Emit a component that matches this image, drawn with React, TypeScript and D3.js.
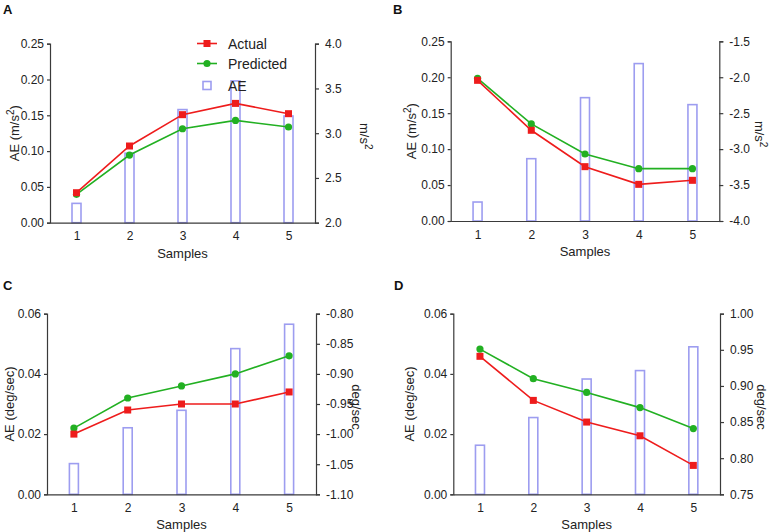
import * as d3 from 'd3';
import { useEffect, useRef } from 'react';

const samples = [1, 2, 3, 4, 5];

// A: acceleration, positive
const aActual = [2.335, 2.857, 3.207, 3.333, 3.218];
const aPredicted = [2.317, 2.756, 3.05, 3.143, 3.069];
const aAE = [0.027, 0.097, 0.158, 0.198, 0.149];

// B: acceleration, negative
const bActual = [-2.043, -2.738, -3.244, -3.49, -3.434];
const bPredicted = [-2.015, -2.65, -3.068, -3.272, -3.272];
const bAE = [0.0264, 0.0867, 0.1716, 0.219, 0.1619];

// C: angular rate, negative
const cActual = [-1.0, -0.96, -0.95, -0.95, -0.93];
const cPredicted = [-0.99, -0.94, -0.92, -0.9, -0.87];
const cAE = [0.0102, 0.0221, 0.0279, 0.0484, 0.0565];

// D: angular rate, positive
const dActual = [0.941, 0.88, 0.85, 0.831, 0.79];
const dPredicted = [0.951, 0.91, 0.891, 0.87, 0.841];
const dAE = [0.0163, 0.0255, 0.0383, 0.0411, 0.049];

const accLeftTicks = [0, 0.05, 0.1, 0.15, 0.2, 0.25];
const gyroLeftTicks = [0, 0.02, 0.04, 0.06];
const aRightTicks = [2.0, 2.5, 3.0, 3.5, 4.0];
const bRightTicks = [-4.0, -3.5, -3.0, -2.5, -2.0, -1.5];
const cRightTicks = [-1.1, -1.05, -1.0, -0.95, -0.9, -0.85, -0.8];
const dRightTicks = [0.75, 0.8, 0.85, 0.9, 0.95, 1.0];

const legendItems = ['Actual', 'Predicted', 'AE'];

const FONT = "'Liberation Sans', Arial, Helvetica, sans-serif";
const RED = '#ee1c1c';
const GREEN = '#22b022';
const BAR = '#9d9df0';
const AXIS = '#3a3a3a';

type Panel = {
  letter: string;
  actual: number[];
  predicted: number[];
  ae: number[];
  leftTicks: number[];
  leftDec: number;
  rightTicks: number[];
  rightDec: number;
  unit: 'acc' | 'gyro';
  box: { l: number; r: number; t: number; b: number };
  letterPos: [number, number];
  leftTitleX: number;
  rightTitleX: number;
  legend?: boolean;
};

const panels: Panel[] = [
  {
    letter: 'A', actual: aActual, predicted: aPredicted, ae: aAE,
    leftTicks: accLeftTicks, leftDec: 2, rightTicks: aRightTicks, rightDec: 1, unit: 'acc',
    box: { l: 50, r: 315, t: 43.7, b: 222.7 }, letterPos: [3, 14], leftTitleX: 19, rightTitleX: 360, legend: true,
  },
  {
    letter: 'B', actual: bActual, predicted: bPredicted, ae: bAE,
    leftTicks: accLeftTicks, leftDec: 2, rightTicks: bRightTicks, rightDec: 1, unit: 'acc',
    box: { l: 450.7, r: 719.3, t: 41.3, b: 221 }, letterPos: [393, 14], leftTitleX: 416, rightTitleX: 755,
  },
  {
    letter: 'C', actual: cActual, predicted: cPredicted, ae: cAE,
    leftTicks: gyroLeftTicks, leftDec: 2, rightTicks: cRightTicks, rightDec: 2, unit: 'gyro',
    box: { l: 47, r: 316, t: 313.7, b: 494.3 }, letterPos: [3, 290], leftTitleX: 14, rightTitleX: 352,
  },
  {
    letter: 'D', actual: dActual, predicted: dPredicted, ae: dAE,
    leftTicks: gyroLeftTicks, leftDec: 2, rightTicks: dRightTicks, rightDec: 2, unit: 'gyro',
    box: { l: 453.3, r: 720, t: 313.7, b: 494.3 }, letterPos: [394, 290], leftTitleX: 414, rightTitleX: 757,
  },
];

function unitText(sel: d3.Selection<SVGTextElement, unknown, null, undefined>, unit: string, prefix: string, suffix: string) {
  if (unit === 'acc') {
    sel.append('tspan').text(prefix + 'm/s');
    sel.append('tspan').attr('dy', -5).attr('font-size', '10px').text('2');
    if (suffix) sel.append('tspan').attr('dy', 5).text(suffix);
  } else {
    sel.append('tspan').text(prefix + 'deg/sec' + suffix);
  }
}

function drawPanel(svg: d3.Selection<SVGSVGElement, unknown, null, undefined>, p: Panel) {
  const { l, r, t, b } = p.box;
  const g = svg.append('g');
  const x = d3.scalePoint<number>().domain(samples).range([l, r]).padding(0.5);
  const yL = d3.scaleLinear().domain([p.leftTicks[0], p.leftTicks[p.leftTicks.length - 1]]).range([b, t]);
  const yR = d3.scaleLinear().domain([p.rightTicks[0], p.rightTicks[p.rightTicks.length - 1]]).range([b, t]);

  // AE bars on the left axis
  g.selectAll('rect.bar')
    .data(p.ae)
    .join('rect')
    .attr('class', 'bar')
    .attr('x', (_, i) => (x(samples[i]) as number) - 4.5)
    .attr('y', d => yL(d))
    .attr('width', 9)
    .attr('height', d => b - yL(d))
    .attr('fill', 'none')
    .attr('stroke', BAR)
    .attr('stroke-width', 1.6);

  const styleAxis = (ax: d3.Selection<SVGGElement, unknown, null, undefined>) => {
    ax.attr('font-family', FONT).attr('font-size', 12);
    ax.selectAll('path, line').attr('stroke', AXIS).attr('stroke-width', 1.2);
    ax.selectAll('text').attr('fill', '#222');
  };

  const left = g.append('g').attr('transform', `translate(${l},0)`)
    .call(d3.axisLeft(yL).tickValues(p.leftTicks).tickFormat(d => (+d).toFixed(p.leftDec)).tickSizeOuter(0).tickSize(3).tickPadding(3));
  styleAxis(left);

  const right = g.append('g').attr('transform', `translate(${r},0)`)
    .call(d3.axisRight(yR).tickValues(p.rightTicks).tickFormat(d => (+d).toFixed(p.rightDec)).tickSizeOuter(0).tickSize(4).tickPadding(6));
  styleAxis(right);

  const bottom = g.append('g').attr('transform', `translate(0,${b})`)
    .call(d3.axisBottom(x).tickSize(0).tickSizeOuter(0).tickPadding(9));
  styleAxis(bottom);

  // titles
  g.append('text')
    .attr('x', (l + r) / 2).attr('y', b + 35)
    .attr('text-anchor', 'middle').attr('font-family', FONT).attr('font-size', 13).attr('fill', '#222')
    .text('Samples');

  const lt = g.append('text')
    .attr('transform', `translate(${p.leftTitleX},${(t + b) / 2}) rotate(-90)`)
    .attr('text-anchor', 'middle').attr('font-family', FONT).attr('font-size', 13).attr('fill', '#222');
  unitText(lt, p.unit, 'AE (', ')');

  const rt = g.append('text')
    .attr('transform', `translate(${p.rightTitleX},${(t + b) / 2 + 3}) rotate(90)`)
    .attr('text-anchor', 'middle').attr('font-family', FONT).attr('font-size', 13).attr('fill', '#222');
  unitText(rt, p.unit, '', '');

  g.append('text')
    .attr('x', p.letterPos[0]).attr('y', p.letterPos[1])
    .attr('font-family', FONT).attr('font-size', 13).attr('font-weight', 'bold').attr('fill', '#111')
    .text(p.letter);

  // lines on the right axis
  const line = d3.line<number>().x((_, i) => x(samples[i]) as number).y(d => yR(d));

  g.append('path').datum(p.predicted).attr('d', line).attr('fill', 'none').attr('stroke', GREEN).attr('stroke-width', 1.6);
  g.selectAll('circle.pred').data(p.predicted).join('circle').attr('class', 'pred')
    .attr('cx', (_, i) => x(samples[i]) as number).attr('cy', d => yR(d)).attr('r', 3.6).attr('fill', GREEN);

  g.append('path').datum(p.actual).attr('d', line).attr('fill', 'none').attr('stroke', RED).attr('stroke-width', 1.6);
  g.selectAll('rect.act').data(p.actual).join('rect').attr('class', 'act')
    .attr('x', (_, i) => (x(samples[i]) as number) - 3.5).attr('y', d => yR(d) - 3.5)
    .attr('width', 7).attr('height', 7).attr('fill', RED);

  if (p.legend) {
    const lg = g.append('g').attr('transform', 'translate(197,43.5)');
    legendItems.forEach((name, i) => {
      const row = lg.append('g').attr('transform', `translate(0,${i === 2 ? 42 : i * 20})`);
      if (i === 0) {
        row.append('line').attr('x1', 0).attr('x2', 20).attr('stroke', RED).attr('stroke-width', 1.6);
        row.append('rect').attr('x', 6.5).attr('y', -3.5).attr('width', 7).attr('height', 7).attr('fill', RED);
      } else if (i === 1) {
        row.append('line').attr('x1', 0).attr('x2', 20).attr('stroke', GREEN).attr('stroke-width', 1.6);
        row.append('circle').attr('cx', 10).attr('r', 3.6).attr('fill', GREEN);
      } else {
        row.append('rect').attr('x', 6).attr('y', -4).attr('width', 8).attr('height', 8)
          .attr('fill', 'none').attr('stroke', BAR).attr('stroke-width', 1.6);
      }
      row.append('text').attr('x', 31).attr('y', 5).attr('font-family', FONT).attr('font-size', 14).attr('fill', '#222').text(name);
    });
  }
}

export default function App() {
  const ref = useRef<SVGSVGElement>(null);

  useEffect(() => {
    if (!ref.current) return;
    const svg = d3.select(ref.current);
    svg.selectAll('*').remove();
    svg.append('rect').attr('width', 770).attr('height', 532).attr('fill', '#fff');
    panels.forEach(p => drawPanel(svg, p));
  }, []);

  return (
    <svg
      ref={ref}
      width={770}
      height={532}
      style={{ position: 'absolute', left: 0, top: 0, display: 'block' }}
    />
  );
}
